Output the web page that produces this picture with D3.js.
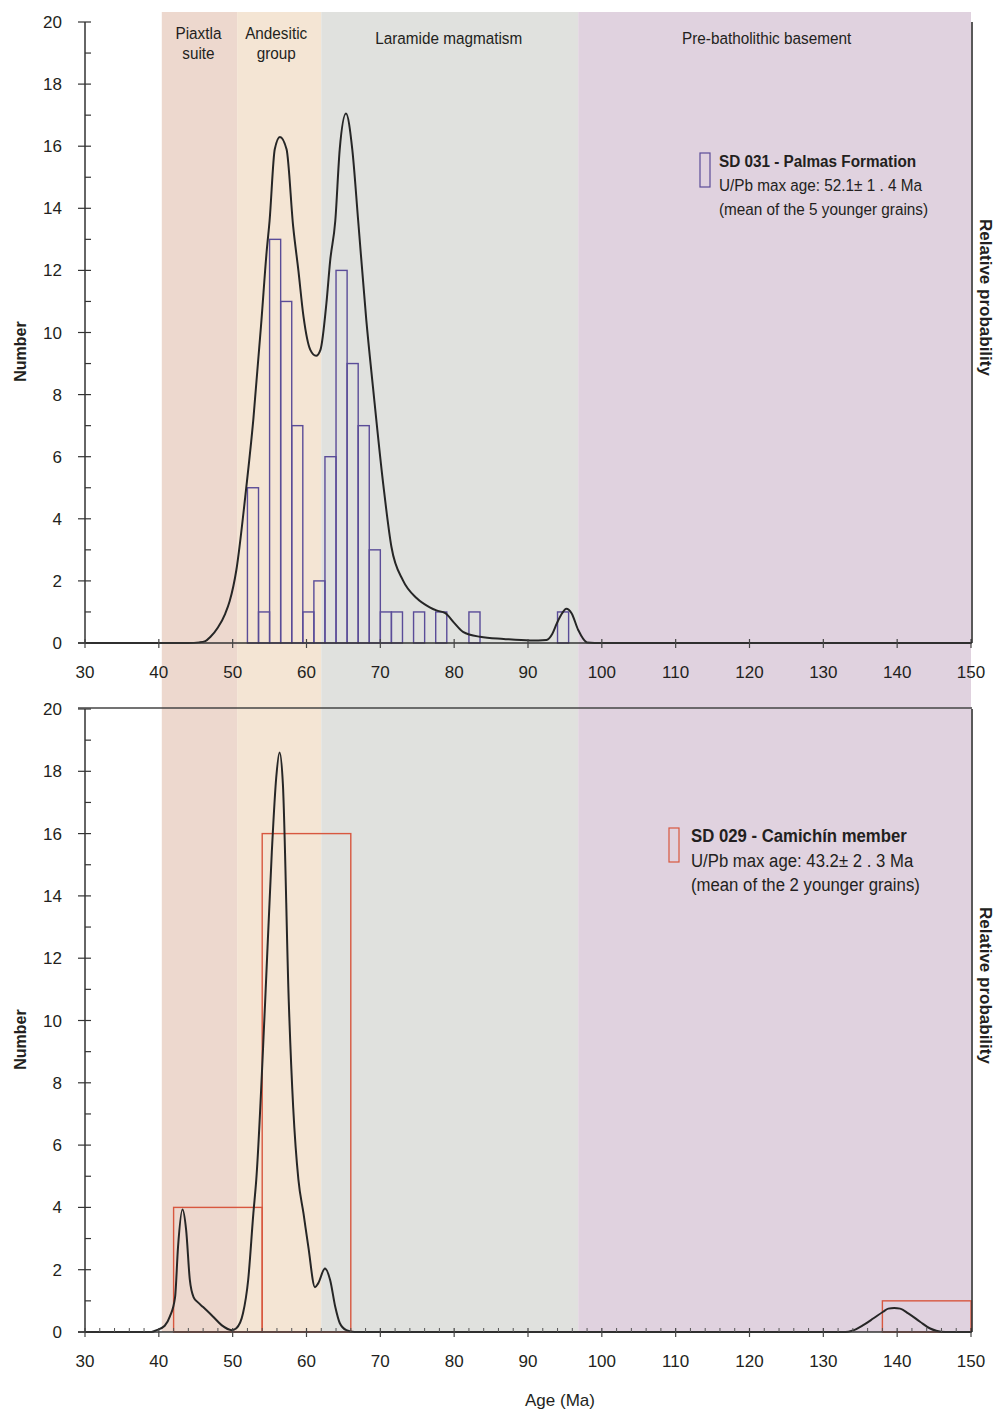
<!DOCTYPE html>
<html>
<head>
<meta charset="utf-8">
<script src="https://cdn.jsdelivr.net/npm/d3@7/dist/d3.min.js"></script>
<style>
  html, body { margin: 0; padding: 0; background: #ffffff; }
  svg { display: block; }
  text { font-family: "Liberation Sans", Arial, sans-serif; fill: #231f20; }
</style>
</head>
<body>
<svg id="chart" width="997" height="1410"></svg>
<script>
// ---- Geological domains (Ma) ----
const bandNames  = ["Piaxtla suite", "Andesitic group", "Laramide magmatism", "Pre-batholithic basement"];
const bandStart  = [40.4, 50.6, 62.0, 96.8];
const bandEnd    = [50.6, 62.0, 96.8, 150];
const bandColors = ["#edd8ce", "#f4e5d4", "#e0e1de", "#e0d2df"];

// ---- Axis ticks ----
const xTicks = [30, 40, 50, 60, 70, 80, 90, 100, 110, 120, 130, 140, 150];
const yTicks = [0, 2, 4, 6, 8, 10, 12, 14, 16, 18, 20];

// ---- SD 031 - Palmas Formation: histogram (bin width 1.5 Ma) ----
const topBinLow  = [52, 53.5, 55, 56.5, 58, 59.5, 61, 62.5, 64, 65.5, 67, 68.5, 70, 71.5, 74.5, 77.5, 82, 94];
const topCounts  = [5, 1, 13, 11, 7, 1, 2, 6, 12, 9, 7, 3, 1, 1, 1, 1, 1, 1];
const topBinWidth = 1.5;

// ---- SD 031 probability density curve ----
const topAges = [30, 44, 45.5, 46.3, 47, 48, 49, 49.6, 50.5, 51.7, 52.8, 53.9, 54.6, 55.0, 55.7, 56.4, 57.3, 58.2, 58.9, 59.6, 60.5, 61.3, 61.9, 62.7, 63.2, 63.9, 64.5, 65.35, 66.2, 67.0, 68.1, 69.0, 70.4, 71.5, 73.1, 74.9, 76.7, 77.6, 78.8, 80.0, 81.2, 83.5, 86.7, 90.3, 92.5, 93.3, 93.9, 94.6, 95.2, 95.9, 96.8, 98.0, 100, 150];
const topProb = [0, 0, 0.02, 0.06, 0.2, 0.5, 0.95, 1.35, 2.35, 4.7, 7.2, 10.4, 12.6, 13.6, 15.9, 16.3, 15.9, 13.4, 12.0, 10.5, 9.45, 9.25, 9.45, 10.95, 12.3, 13.6, 15.9, 17.05, 15.9, 13.6, 10.4, 8.25, 5.1, 3.1, 2.0, 1.45, 1.15, 1.05, 0.96, 0.65, 0.36, 0.2, 0.13, 0.08, 0.1, 0.3, 0.63, 0.95, 1.1, 0.96, 0.42, 0.02, 0, 0];

// ---- SD 029 - Camichín member: histogram (bin width 12 Ma) ----
const botBinLow  = [42, 54, 138];
const botCounts  = [4, 16, 1];
const botBinWidth = 12;

// ---- SD 029 probability density curve ----
const botAges = [30, 39.0, 39.7, 40.8, 41.5, 42.2, 42.6, 43.2, 43.7, 44.2, 44.7, 45.3, 46.0, 47.4, 48.5, 49.9, 50.5, 51.4, 52.1, 52.8, 53.2, 54.4, 55.3, 55.9, 56.35, 56.8, 57.6, 58.2, 58.9, 59.6, 60.25, 61.15, 61.6, 62.5, 63.2, 63.9, 64.5, 65.4, 66.5, 133.0, 133.9, 135.4, 136.8, 138.1, 138.8, 139.6, 140.4, 141.5, 143.1, 144.4, 145.3, 146.5, 150];
const botProb = [0, 0, 0.06, 0.2, 0.5, 1.12, 2.73, 3.93, 3.27, 1.67, 1.12, 0.95, 0.8, 0.48, 0.22, 0.06, 0.12, 0.6, 1.67, 3.8, 4.9, 10.6, 15.4, 17.8, 18.6, 17.6, 10.6, 7.2, 4.9, 3.8, 2.73, 1.44, 1.57, 2.04, 1.67, 0.8, 0.29, 0.06, 0, 0, 0.04, 0.22, 0.44, 0.65, 0.75, 0.77, 0.75, 0.6, 0.33, 0.12, 0.04, 0, 0];

// ---- Legend texts ----
const topLegend = ["SD 031 - Palmas Formation", "U/Pb max age: 52.1± 1 . 4 Ma", "(mean of the 5 younger grains)"];
const botLegend = ["SD 029 - Camichín member", "U/Pb max age: 43.2± 2 . 3 Ma", "(mean of the 2 younger grains)"];

const svg = d3.select("#chart");

const x = d3.scaleLinear().domain([30, 150]).range([85, 971]);
const yTop = d3.scaleLinear().domain([0, 20]).range([643, 22]);
const yBot = d3.scaleLinear().domain([0, 20]).range([1332, 709]);

// Condensed text: regular sans squeezed horizontally
const CONDENSE = 0.9;
function narrowText(parent, px, py, str, size, anchor, weight, color) {
  return parent.append("text")
    .attr("transform", `translate(${px},${py}) scale(${CONDENSE},1)`)
    .attr("text-anchor", anchor)
    .attr("font-size", size)
    .attr("font-weight", weight)
    .attr("fill", color)
    .text(str);
}

// Background bands spanning both panels
const bandTop = 12, bandBottom = yBot(0);
svg.append("g").selectAll("rect")
  .data(bandNames)
  .join("rect")
  .attr("x", (d, i) => x(bandStart[i]))
  .attr("y", bandTop)
  .attr("width", (d, i) => x(bandEnd[i]) - x(bandStart[i]))
  .attr("height", bandBottom - bandTop)
  .attr("fill", (d, i) => bandColors[i]);

// Band labels
const bandLabelLines = [["Piaxtla", "suite"], ["Andesitic", "group"], ["Laramide magmatism"], ["Pre-batholithic basement"]];
const bandLabelShift = [-1, -3, -1, -8];
bandLabelLines.forEach((lines, i) => {
  const cx = (x(bandStart[i]) + x(bandEnd[i])) / 2 + bandLabelShift[i];
  if (lines.length === 2) {
    narrowText(svg, cx, 39, lines[0], 17, "middle", "normal", "#2b2b2b");
    narrowText(svg, cx, 59, lines[1], 17, "middle", "normal", "#2b2b2b");
  } else {
    narrowText(svg, cx, 44, lines[0], 17, "middle", "normal", "#2b2b2b");
  }
});

function drawPanel(y, opts) {
  const g = svg.append("g");
  const base = y(0), top = y(20);

  // histogram
  g.append("g").selectAll("rect")
    .data(opts.binLow)
    .join("rect")
    .attr("x", d => x(d))
    .attr("y", (d, i) => y(opts.counts[i]))
    .attr("width", d => x(d + opts.binWidth) - x(d))
    .attr("height", (d, i) => base - y(opts.counts[i]))
    .attr("fill", "none")
    .attr("stroke", opts.histColor)
    .attr("stroke-width", 1.4);

  // probability curve
  const line = d3.line()
    .x(d => x(d[0]))
    .y(d => y(d[1]))
    .curve(d3.curveMonotoneX);
  g.append("path")
    .datum(opts.ages.map((a, i) => [a, opts.prob[i]]))
    .attr("d", line)
    .attr("fill", "none")
    .attr("stroke", "#262626")
    .attr("stroke-width", 2)
    .attr("stroke-linejoin", "round");

  // left axis line and ticks
  g.append("line").attr("x1", 85).attr("x2", 85).attr("y1", top).attr("y2", base)
    .attr("stroke", "#333").attr("stroke-width", 1.5);
  const minor = d3.range(1, 20, 2);
  g.append("g").selectAll("line.minor").data(minor).join("line")
    .attr("x1", 85).attr("x2", 91).attr("y1", d => y(d)).attr("y2", d => y(d))
    .attr("stroke", "#333").attr("stroke-width", 1.2);
  g.append("g").selectAll("line.major").data(yTicks).join("line")
    .attr("x1", 78).attr("x2", 91).attr("y1", d => y(d)).attr("y2", d => y(d))
    .attr("stroke", "#333").attr("stroke-width", 1.2);
  g.append("g").selectAll("text").data(yTicks).join("text")
    .attr("x", 62).attr("y", d => y(d) + 6)
    .attr("text-anchor", "end")
    .attr("font-size", 17)
    .text(d => d);

  // baseline and x ticks
  g.append("line").attr("x1", 78).attr("x2", 972).attr("y1", base).attr("y2", base)
    .attr("stroke", "#333").attr("stroke-width", 1.5);
  if (opts.minorX) {
    g.append("g").selectAll("line").data(d3.range(32, 150, 2).filter(v => v % 10 !== 0)).join("line")
      .attr("x1", d => x(d)).attr("x2", d => x(d)).attr("y1", base - 4).attr("y2", base)
      .attr("stroke", "#555").attr("stroke-width", 1);
  }
  g.append("g").selectAll("line").data(xTicks).join("line")
    .attr("x1", d => x(d)).attr("x2", d => x(d)).attr("y1", base - 4).attr("y2", base + 5)
    .attr("stroke", "#444").attr("stroke-width", 1.2);
  g.append("g").selectAll("text").data(xTicks).join("text")
    .attr("x", d => x(d)).attr("y", base + 35)
    .attr("text-anchor", "middle")
    .attr("font-size", 17)
    .text(d => d);

  // right border
  g.append("line").attr("x1", 972).attr("x2", 972).attr("y1", top).attr("y2", base)
    .attr("stroke", "#222").attr("stroke-width", 1.5);
  if (opts.topBorder) {
    g.append("line").attr("x1", 78).attr("x2", 972).attr("y1", top - 1).attr("y2", top - 1)
      .attr("stroke", "#444").attr("stroke-width", 1.5);
  }

  // axis titles
  const midY = (top + base) / 2;
  g.append("text")
    .attr("transform", `translate(26,${midY + 19}) rotate(-90)`)
    .attr("text-anchor", "middle")
    .attr("font-size", 16).attr("font-weight", "bold")
    .text("Number");
  g.append("text")
    .attr("transform", `translate(980,${midY - 35}) rotate(90)`)
    .attr("text-anchor", "middle")
    .attr("font-size", 17).attr("font-weight", "bold")
    .text("Relative probability");

  // legend
  g.append("rect")
    .attr("x", opts.legX).attr("y", opts.legY)
    .attr("width", 10).attr("height", 34)
    .attr("fill", "none").attr("stroke", opts.histColor).attr("stroke-width", 1.2);
  opts.legend.forEach((s, i) => {
    narrowText(g, opts.legX + opts.legGap, opts.legY + 14 + i * opts.legStep, s, opts.legSize,
      "start", i === 0 ? "bold" : "normal", i === 0 ? "#2b2b2b" : "#333");
  });
}

drawPanel(yTop, {
  binLow: topBinLow, counts: topCounts, binWidth: topBinWidth,
  ages: topAges, prob: topProb, histColor: "#5a4c98",
  legend: topLegend, legX: 700, legY: 153, legGap: 19, legStep: 24, legSize: 17,
  minorX: false, topBorder: false
});

drawPanel(yBot, {
  binLow: botBinLow, counts: botCounts, binWidth: botBinWidth,
  ages: botAges, prob: botProb, histColor: "#d8573f",
  legend: botLegend, legX: 669, legY: 828, legGap: 22, legStep: 24.5, legSize: 18.6,
  minorX: true, topBorder: true
});

// shared x-axis title
svg.append("text")
  .attr("x", 560).attr("y", 1406)
  .attr("text-anchor", "middle")
  .attr("font-size", 17)
  .text("Age (Ma)");
</script>
</body>
</html>
